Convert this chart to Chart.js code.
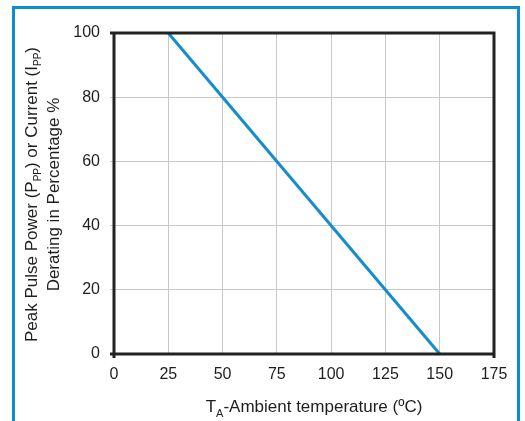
<!DOCTYPE html>
<html>
<head>
<meta charset="utf-8">
<script src="https://cdn.jsdelivr.net/npm/chart.js@4"></script>
<style>
html,body{margin:0;padding:0;background:#fff;}
#wrap{width:525px;height:421px;position:relative;}
</style>
</head>
<body>
<div id="wrap"><canvas id="c" width="525" height="421"></canvas></div>
<script>
const temperatures = [25, 150];
const deratingPct = [100, 0];
const xTicks = [0, 25, 50, 75, 100, 125, 150, 175];
const yTicks = [0, 20, 40, 60, 80, 100];

const FONT = '"Liberation Sans", Arial, sans-serif';
const TXT = '#1e1e1e';

const decor = {
  id: 'decor',
  beforeDraw(chart) {
    const ctx = chart.ctx;
    ctx.save();
    ctx.fillStyle = '#fff';
    ctx.fillRect(0, 0, chart.width, chart.height);
    ctx.restore();
  },
  afterDatasetsDraw(chart) {
    const ctx = chart.ctx;
    const a = chart.chartArea;
    ctx.save();
    // plot frame
    ctx.strokeStyle = '#222';
    ctx.lineWidth = 3;
    ctx.lineCap = 'butt';
    ctx.beginPath();
    ctx.moveTo(a.left - 4, a.top); ctx.lineTo(a.right + 1.5, a.top);
    ctx.moveTo(a.left - 4, a.bottom); ctx.lineTo(a.right + 1.5, a.bottom);
    ctx.moveTo(a.left, a.top - 1.5); ctx.lineTo(a.left, a.bottom + 4);
    ctx.moveTo(a.right, a.top - 1.5); ctx.lineTo(a.right, a.bottom + 4);
    ctx.stroke();
    // outer blue frame
    ctx.strokeStyle = '#0a8dd3';
    ctx.lineWidth = 3;
    ctx.strokeRect(13.5, 7.5, 505, 440);
    ctx.restore();

    // titles with subscripts
    function drawRuns(runs, cx, baseY) {
      let total = 0;
      runs.forEach(r => { ctx.font = r.size + 'px ' + FONT; r.w = ctx.measureText(r.t).width; total += r.w; });
      let x = cx - total / 2;
      runs.forEach(r => {
        ctx.font = r.size + 'px ' + FONT;
        ctx.fillText(r.t, x, baseY + (r.dy || 0));
        x += r.w;
      });
    }
    ctx.save();
    ctx.fillStyle = TXT;
    ctx.textBaseline = 'alphabetic';
    ctx.textAlign = 'left';
    // x title
    drawRuns([
      {t: 'T', size: 17},
      {t: 'A', size: 11, dy: 5},
      {t: '-Ambient temperature (ºC)', size: 17}
    ], 314, 412);
    // y title (rotated)
    const cy = (a.top + a.bottom) / 2 + 1;
    ctx.translate(37, cy);
    ctx.rotate(-Math.PI / 2);
    drawRuns([
      {t: 'Peak Pulse Power (P', size: 17},
      {t: 'PP', size: 10, dy: 4},
      {t: ') or Current (I', size: 17},
      {t: 'PP', size: 10, dy: 4},
      {t: ')', size: 17}
    ], 0, 0);
    drawRuns([
      {t: 'Derating in Percentage %', size: 17}
    ], 0, 22);
    ctx.restore();
  }
};

new Chart(document.getElementById('c'), {
  type: 'scatter',
  data: {
    datasets: [{
      data: temperatures.map((t, i) => ({x: t, y: deratingPct[i]})),
      showLine: true,
      borderColor: '#168ccc',
      backgroundColor: '#168ccc',
      borderWidth: 3,
      pointRadius: 0,
      clip: false
    }]
  },
  options: {
    responsive: false,
    animation: false,
    devicePixelRatio: 1,
    layout: {padding: {top: 33, right: 31, left: 0, bottom: 0}},
    plugins: {legend: {display: false}, tooltip: {enabled: false}},
    scales: {
      x: {
        type: 'linear',
        min: 0, max: 175,
        afterBuildTicks(s) { s.ticks = xTicks.map(v => ({value: v})); },
        afterFit(s) { s.height = 67; },
        grid: {color: '#c8c8c8', lineWidth: 1, drawTicks: false},
        border: {display: false},
        ticks: {padding: 11, color: TXT, font: {family: FONT, size: 16}, maxRotation: 0}
      },
      y: {
        type: 'linear',
        min: 0, max: 100,
        afterBuildTicks(s) { s.ticks = yTicks.map(v => ({value: v})); },
        afterFit(s) { s.width = 114; },
        grid: {color: '#c8c8c8', lineWidth: 1, drawTicks: true, tickLength: 4},
        border: {display: false},
        ticks: {padding: 10, color: TXT, font: {family: FONT, size: 16}}
      }
    }
  },
  plugins: [decor]
});
</script>
</body>
</html>
